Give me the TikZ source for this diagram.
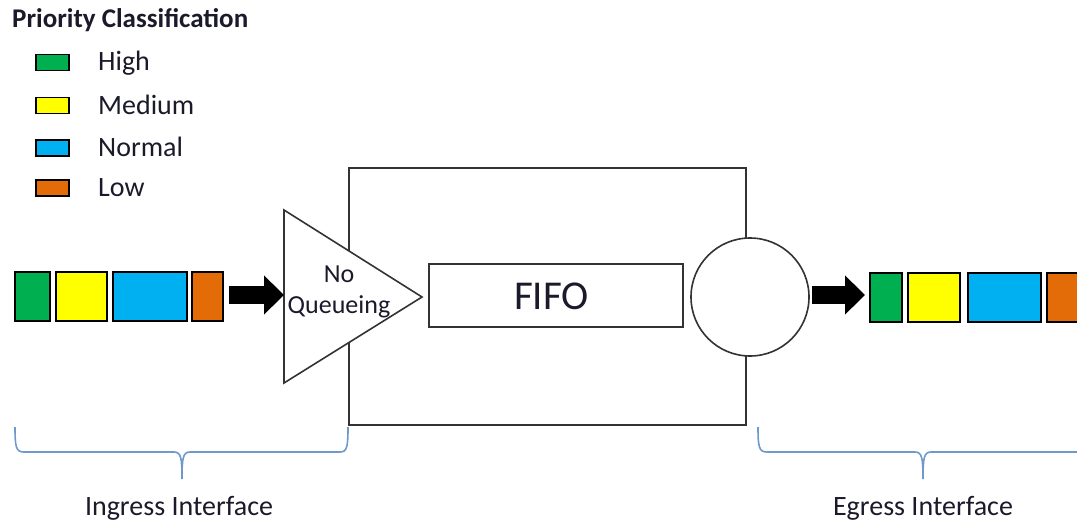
\documentclass[tikz,border=0pt]{standalone}
\usepackage{fontspec}
\setmainfont{Carlito}
\usetikzlibrary{arrows.meta}
\definecolor{pgreen}{HTML}{00B050}
\definecolor{pyellow}{HTML}{FFFF00}
\definecolor{pblue}{HTML}{00B0F0}
\definecolor{porange}{HTML}{E36C09}
\definecolor{bracec}{HTML}{6F98CB}
\definecolor{txt}{HTML}{1A1A2A}
\begin{document}
\begin{tikzpicture}[x=1pt,y=-1pt,
  pkt/.style={draw=black, line width=1.6pt, inner sep=0pt, minimum height=49pt},
  leg/.style={draw=black, line width=1.6pt, inner sep=0pt, minimum width=33pt, minimum height=16pt},
  legtxt/.style={anchor=west, inner sep=0pt, font=\fontsize{28}{33}\selectfont, text=txt},
  frame/.style={draw=black!80, line width=1.6pt},
  bigarrow/.style={line width=18pt, -{Triangle[length=20pt,width=38pt]}},
  brace/.style={draw=bracec, line width=1.6pt},
  lbl/.style={inner sep=0pt, font=\fontsize{28}{33}\selectfont, text=txt}]
\useasboundingbox (0,0) rectangle (1077,522);
\clip (0,0) rectangle (1077,522);
% legend
\node[anchor=west, inner sep=0pt, font=\bfseries\fontsize{27}{31}\selectfont, text=txt] (title) at (12,20) {Priority Classification};
\node[leg, fill=pgreen] (lg1) at (52.5,62.5) {};
\node[leg, fill=pyellow] (lg2) at (52.5,105.5) {};
\node[leg, fill=pblue] (lg3) at (52.5,148) {};
\node[leg, fill=porange] (lg4) at (52.5,188) {};
\node[legtxt] (lt1) at (98,63) {High};
\node[legtxt] (lt2) at (98,105) {Medium};
\node[legtxt] (lt3) at (98,147) {Normal};
\node[legtxt] (lt4) at (98,188) {Low};
% main box
\draw[frame] (349,168) rectangle (746,425);
% triangle
\coordinate (tl) at (284,210);
\coordinate (tb) at (284,383);
\coordinate (tip) at (422,297);
\coordinate (tin) at (284,295);
\filldraw[frame, fill=white] (tl) -- (tip) -- (tb) -- cycle;
\node[lbl, align=center, font=\fontsize{26}{31}\selectfont] (noq) at (339,292) {No\\Queueing};
% FIFO
\node[frame, minimum width=254pt, minimum height=63pt, inner sep=0pt] (fifo) at (556,295.5) {};
\node[inner sep=0pt, font=\fontsize{41}{45}\selectfont, text=txt] (fifot) at (551.5,296) {FIFO};
% circle
\node[frame, fill=white, circle, minimum size=118pt, inner sep=0pt] (sched) at (750,297) {};
% ingress packets
\node[pkt, fill=pgreen, minimum width=35pt] (i1) at (32.5,296.5) {};
\node[pkt, fill=pyellow, minimum width=51pt] (i2) at (81.5,296.5) {};
\node[pkt, fill=pblue, minimum width=74pt] (i3) at (150,296.5) {};
\node[pkt, fill=porange, minimum width=31pt] (i4) at (207.5,296.5) {};
% egress packets
\node[pkt, fill=pgreen, minimum width=32pt] (e1) at (886,297.5) {};
\node[pkt, fill=pyellow, minimum width=52pt] (e2) at (934,297.5) {};
\node[pkt, fill=pblue, minimum width=73pt] (e3) at (1004.5,297.5) {};
\node[pkt, fill=porange, minimum width=31pt] (e4) at (1062.5,297.5) {};
% arrows
\coordinate (a1s) at (229,295);
\coordinate (a2s) at (812,295);
\coordinate (a2e) at (865,295);
\draw[bigarrow] (a1s) -- (tin);
\draw[bigarrow] (a2s) -- (a2e);
% braces
\draw[brace] (15,427) .. controls (15,447) and (16,452) .. (24,452) -- (174,452)
  .. controls (181,452) and (182,458) .. (182,479)
  .. controls (182,458) and (183,452) .. (190,452) -- (340,452)
  .. controls (347,452) and (348,447) .. (348,427);
\draw[brace] (758,427) .. controls (758,447) and (759,452) .. (767,452) -- (915,452)
  .. controls (922,452) and (923,458) .. (923,479)
  .. controls (923,458) and (924,452) .. (931,452) -- (1080,452)
  .. controls (1087,452) and (1088,447) .. (1088,427);
\node[lbl] (ing) at (179,508) {Ingress Interface};
\node[lbl] (egr) at (923,508) {Egress Interface};
\end{tikzpicture}
\end{document}
